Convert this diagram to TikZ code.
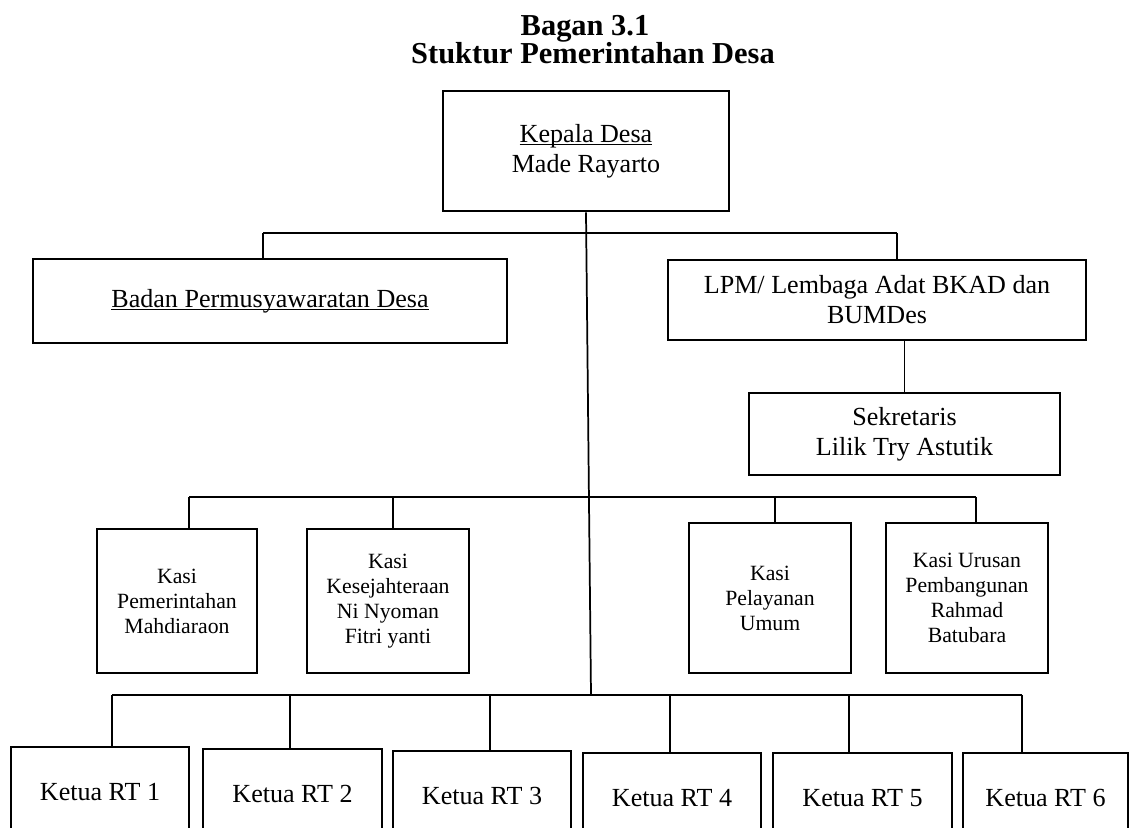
\documentclass[tikz,border=0pt]{standalone}
\usepackage{fontspec}
\setmainfont{Liberation Serif}
\usepackage{tikz}

\newcommand{\px}{0.46pt}
% underline that sits close to the baseline
\newcommand{\garis}[1]{\setbox0\hbox{#1}\rlap{\rule[-1.3pt]{\wd0}{0.6pt}}#1}
\tikzset{
  orgbox/.style={draw, line width=1.3pt, align=center, inner sep=0pt,
    font=\fontsize{12}{13.8}\selectfont},
  kasibox/.style={orgbox, font=\fontsize{10}{11.5}\selectfont},
  rtbox/.style={orgbox, minimum height=90*\px},
  link/.style={line width=0.8pt}
}

\begin{document}
\begin{tikzpicture}[x=\px, y=-\px]
  \useasboundingbox (0,0) rectangle (1130,828);

  % title
  \node[font=\bfseries\fontsize{14}{16}\selectfont, anchor=base] (bagan) at (585,36) {Bagan 3.1};
  \node[font=\bfseries\fontsize{14}{16}\selectfont, anchor=base] (judul) at (593,64) {Stuktur Pemerintahan Desa};

  % top level
  \node[orgbox, minimum width=286*\px, minimum height=120*\px] (kades) at (586,151)
       {\garis{Kepala Desa}\\Made Rayarto};
  \node[orgbox, minimum width=474*\px, minimum height=84*\px] (bpd) at (270,301)
       {\garis{Badan Permusyawaratan Desa}};
  \node[orgbox, minimum width=418*\px, minimum height=80*\px] (lpm) at (877,300)
       {LPM/ Lembaga Adat BKAD dan\\BUMDes};
  \node[orgbox, minimum width=311*\px, minimum height=82*\px] (sekdes) at (904.5,434)
       {Sekretaris\\Lilik Try Astutik};

  % kasi
  \node[kasibox, minimum width=160*\px, minimum height=144*\px] (kasi1) at (177,601)
       {Kasi\\Pemerintahan\\Mahdiaraon};
  \node[kasibox, minimum width=162*\px, minimum height=144*\px] (kasi2) at (388,601)
       {Kasi\\Kesejahteraan\\Ni Nyoman\\Fitri yanti};
  \node[kasibox, minimum width=162*\px, minimum height=150*\px] (kasi3) at (770,598)
       {Kasi\\Pelayanan\\Umum};
  \node[kasibox, minimum width=162*\px, minimum height=150*\px] (kasi4) at (967,598)
       {Kasi Urusan\\Pembangunan\\Rahmad\\Batubara};

  % ketua RT (cut by the page at the bottom)
  \node[rtbox, minimum width=178*\px] (rt1) at (100,792) {Ketua RT 1};
  \node[rtbox, minimum width=179*\px] (rt2) at (292.5,794) {Ketua RT 2};
  \node[rtbox, minimum width=178*\px] (rt3) at (482,796) {Ketua RT 3};
  \node[rtbox, minimum width=178*\px] (rt4) at (672,798) {Ketua RT 4};
  \node[rtbox, minimum width=179*\px] (rt5) at (862.5,798) {Ketua RT 5};
  \node[rtbox, minimum width=165*\px] (rt6) at (1045.5,798) {Ketua RT 6};

  % lines
  \coordinate (busL) at (263,233);
  \coordinate (busR) at (897,233);
  \coordinate (kbusL) at (189,497);
  \coordinate (kbusR) at (976,497);
  \coordinate (rbusL) at (112,695);
  \coordinate (rbusR) at (1022,695);
  \coordinate (trunk) at (591,695);

  \draw[link] (kades.south) -- (trunk);
  \draw[link] (busL) -- (busR);
  \draw[link] (busL) -- (busL |- bpd.north);
  \draw[link] (busR) -- (busR |- lpm.north);
  \draw[link] (sekdes.north) -- (sekdes.north |- lpm.south);

  \draw[link] (kbusL) -- (kbusR);
  \foreach \x/\n in {189/kasi1, 393/kasi2, 775/kasi3, 976/kasi4}
    \draw[link] (\x,497) -- (\x,497 |- \n.north);

  \draw[link] (rbusL) -- (rbusR);
  \foreach \x/\n in {112/rt1, 290/rt2, 490/rt3, 670/rt4, 849/rt5, 1022/rt6}
    \draw[link] (\x,695) -- (\x,695 |- \n.north);
\end{tikzpicture}
\end{document}
